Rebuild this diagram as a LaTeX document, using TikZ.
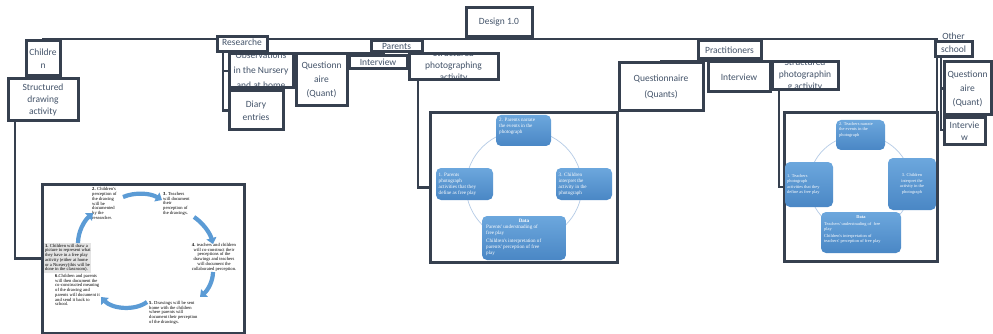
\documentclass[tikz,border=0pt]{standalone}
\usepackage{fontspec}
\setmainfont{Carlito}
\newfontfamily\tnr{Liberation Serif}
\usetikzlibrary{arrows.meta}
\definecolor{bord}{HTML}{36404F}
\definecolor{txt}{HTML}{44546A}
\definecolor{cblue}{HTML}{5B9BD5}
\definecolor{ctop}{HTML}{6CA7DD}
\definecolor{cbot}{HTML}{4A87C5}
\definecolor{ring}{HTML}{B4CBE6}
\definecolor{greybg}{HTML}{E4E4E4}
\begin{document}
\begin{tikzpicture}[x=1pt,y=-1pt,
  bx/.style={draw=bord,line width=3pt,fill=white,inner sep=0pt,text=txt,align=center,font=\fontsize{9.5}{13}\selectfont},
  lbl/.style={text=txt,align=center,inner sep=0pt,font=\fontsize{9.5}{12}\selectfont},
  wire/.style={draw=bord,line width=2.7pt},
  frame/.style={draw=bord,line width=3pt,fill=white,inner sep=0pt},
  sm/.style={inner sep=0pt,font=\tnr\fontsize{4.6}{4.75}\selectfont,align=left},
  cyc/.style={top color=ctop,bottom color=cbot,rounded corners=5pt,draw=none,inner sep=0pt},
  wt/.style={text=white,inner sep=0pt,font=\tnr\fontsize{5.1}{6}\selectfont,align=left},
  wt3/.style={text=white,inner sep=0pt,font=\tnr\fontsize{4.4}{5.4}\selectfont,align=left},
  barrow/.style={draw=cblue,line width=4.2pt,-{Triangle[length=6pt,width=10pt]}},
]
\fill[white] (0,0) rectangle (993,334);
\useasboundingbox (0,0) rectangle (993,334);

% ---------- picture frames ----------
\node[frame,minimum width=202pt,minimum height=149pt] (img1) at (143,258.5) {};
\node[frame,minimum width=187pt,minimum height=149pt] (img2) at (523.5,187.5) {};
\node[frame,minimum width=153pt,minimum height=148pt] (img3) at (860.5,187) {};

% ---------- cycle 1 (drawing activity) ----------
\node[sm,anchor=north west] (c1t2) at (92,187.5) {\textbf{2.} Children's\\perception of\\the drawing\\will be\\documented\\by the\\researcher.};
\node[sm,anchor=north west] (c1t3) at (163,192) {\textbf{3.} Teachers\\will document\\their\\perception of\\the drawings.};
\node[sm,align=center,anchor=north] (c1t4) at (214,243) {\textbf{4.} teachers and children\\will co-construct their\\perceptions of the\\drawings and teachers\\will document the\\collaborated perception.};
\node[sm,anchor=north west] (c1t5) at (149,301) {\textbf{5.} Drawings will be sent\\home with the children\\where parents will\\document their perception\\of the drawings.};
\node[sm,anchor=north west] (c1t6) at (55,274) {\textbf{6.}Children and parents\\will then document the\\co-constructed meaning\\of the drawing and\\parents will document it\\and send it back to\\school.};
\node[sm,anchor=north west,fill=greybg,inner sep=0.8pt] (c1t1) at (44,243) {\textbf{1.} Children will draw a\\picture to represent what\\they have in a free play\\activity (either at home\\or a Nursery(this will be\\done in the classroom).};
\coordinate (a1s) at (78,243);  \coordinate (a1e) at (93,213);
\coordinate (a2s) at (123,197); \coordinate (a2e) at (162,200);
\coordinate (a3s) at (194,217); \coordinate (a3e) at (213,244);
\coordinate (a4s) at (213,272); \coordinate (a4e) at (200,297);
\coordinate (a5s) at (147,302); \coordinate (a5e) at (101,297);
\draw[barrow] (a1s) .. controls (78,232) and (84,221) .. (a1e);
\draw[barrow] (a2s) .. controls (135,192) and (150,193) .. (a2e);
\draw[barrow] (a3s) .. controls (203,223) and (210,233) .. (a3e);
\draw[barrow] (a4s) .. controls (213,281) and (208,290) .. (a4e);
\draw[barrow] (a5s) .. controls (135,311) and (112,309) .. (a5e);

% ---------- cycle 2 (parents) ----------
\draw[ring,line width=0.7pt] (524,186) ellipse [x radius=58pt,y radius=56pt];
\node[cyc,minimum width=55pt,minimum height=31pt] (p2) at (523.5,130.5) {};
\node[wt,anchor=north west] (p2t) at (499,117.5) {2. Parents narrate\\the events in the\\photograph};
\node[cyc,minimum width=57pt,minimum height=32pt] (p1) at (464.5,184) {};
\node[wt,anchor=west] (p1t) at (438.5,184) {1. Parents\\photograph\\activities that they\\define as free play};
\node[cyc,minimum width=56pt,minimum height=32pt] (p3) at (584,184) {};
\node[wt,anchor=west] (p3t) at (558.5,184) {3. Children\\interpret the\\activity in the\\photograph};
\node[cyc,minimum width=84pt,minimum height=44pt] (pd) at (524,238) {};
\node[wt,anchor=north] (pdh) at (524,218.5) {\textbf{Data}};
\node[wt,anchor=north west] (pdt) at (486,225) {Parents' understnading of\\free play\\[1.5pt]Children's interpretation of\\parents' perception of free\\play};

% ---------- cycle 3 (practitioners) ----------
\draw[ring,line width=0.7pt] (860,184) ellipse [x radius=51pt,y radius=49pt];
\node[cyc,minimum width=49pt,minimum height=30pt] (t2) at (860.5,135) {};
\node[wt3,anchor=north west] (t2t) at (839,122) {2. Teachers narrate\\the events in the\\photograph};
\node[cyc,minimum width=48pt,minimum height=45pt] (t1) at (809,184.5) {};
\node[wt3,anchor=west] (t1t) at (787,184.5) {1. Teachers\\photograph\\activities that they\\define as free play};
\node[cyc,minimum width=48pt,minimum height=52pt] (t3) at (912,184) {};
\node[wt3,align=center] (t3t) at (912,184) {3. Children\\interpret the\\activity in the\\photograph};
\node[cyc,minimum width=80pt,minimum height=41pt] (td) at (861,232.5) {};
\node[wt3,anchor=north] (tdh) at (861,215) {\textbf{Data}};
\node[wt3,anchor=north west] (tdt) at (824,222) {Teachers' understnading of\ \ free\\play\\[1pt]Children's interpretation of\\teachers' perception of free play};

% ---------- connectors ----------
\coordinate (mL) at (42,39);
\coordinate (mR) at (937,39);
\draw[wire] (mL) -- (mR) -- (mR |- img3.north);
\coordinate (sdaL) at (15,121);
\draw[wire] (sdaL) |- (img1.west);
\coordinate (rv) at (223,52);
\draw[wire] (rv) |- (229,110.5);
\draw[wire] (223,71) -- (229,71);
\coordinate (pl) at (320,53);
\draw[wire] (pl) -- (385,53);
\coordinate (pspL) at (418,80);
\draw[wire] (pspL) |- (img2.west);
\coordinate (prl) at (660,61);
\draw[wire] (prl) -- (807,61);
\coordinate (prspL) at (779,90);
\draw[wire] (prspL) |- (img3.west);
\coordinate (ov) at (941,57);
\draw[wire] (ov) |- (944,130);
\draw[wire] (941,88.5) -- (944,88.5);
\draw[wire] (43,76) -- (43,79);

% ---------- boxes ----------
\node[bx,minimum width=66pt,minimum height=29pt] (design) at (499,22.5) {Design 1.0};
\node[bx,minimum width=34pt,minimum height=35pt] (children) at (43,58.5) {Childre\\n};
\node[bx,minimum width=70pt,minimum height=42pt,font=\fontsize{9.5}{12}\selectfont] (sda) at (43,100) {Structured\\drawing\\activity};
\node[bx,minimum width=50pt,minimum height=15pt,path picture={\node[lbl] (res-t) at ([yshift=2pt]path picture bounding box.center) {Researche};}] (researcher) at (242,44.5) {};
\node[bx,minimum width=64pt,minimum height=34pt,path picture={\node[lbl,font=\fontsize{9.5}{15}\selectfont] (obs-t) at ([yshift=1pt]path picture bounding box.center) {Observations\\in the Nursery\\and at home};}] (obs) at (261,71) {};
\node[bx,minimum width=54pt,minimum height=39pt] (diary) at (256,110.5) {Diary\\entries};
\node[bx,minimum width=51pt,minimum height=52pt,font=\fontsize{9.5}{14}\selectfont] (pq) at (321.5,80) {Questionn\\aire\\(Quant)};
\node[bx,minimum width=51pt,minimum height=11pt] (parents) at (396.5,46.5) {Parents};
\node[bx,minimum width=58pt,minimum height=13pt] (pint) at (378,62.5) {Interview};
\node[bx,minimum width=89pt,minimum height=26pt,path picture={\node[lbl] (psp-t) at ([yshift=1pt]path picture bounding box.center) {Structured\\photographing\\activity};}] (psp) at (453.5,67) {};
\node[bx,minimum width=63pt,minimum height=18pt] (prac) at (729.5,50) {Practitioners};
\node[bx,minimum width=84pt,minimum height=48pt,font=\fontsize{9.5}{16}\selectfont] (prq) at (661,87) {Questionnaire\\(Quants)};
\node[bx,minimum width=62pt,minimum height=30pt] (print) at (739,77) {Interview};
\node[bx,minimum width=66pt,minimum height=28pt,path picture={\node[lbl] (prsp-t) at ([yshift=1pt]path picture bounding box.center) {Structured\\photographin\\g activity};}] (prsp) at (805,76) {};
\node[lbl] (other-t) at (953.5,36) {Other};
\node[bx,minimum width=37pt,minimum height=15pt] (other) at (953.5,49.5) {school};
\node[bx,minimum width=47pt,minimum height=53pt,font=\fontsize{9.5}{14}\selectfont] (oq) at (967.5,88.5) {Questionn\\aire\\(Quant)};
\node[bx,minimum width=41pt,minimum height=27pt,font=\fontsize{9.5}{12}\selectfont] (oint) at (964.5,131.5) {Intervie\\w};
\end{tikzpicture}
\end{document}
